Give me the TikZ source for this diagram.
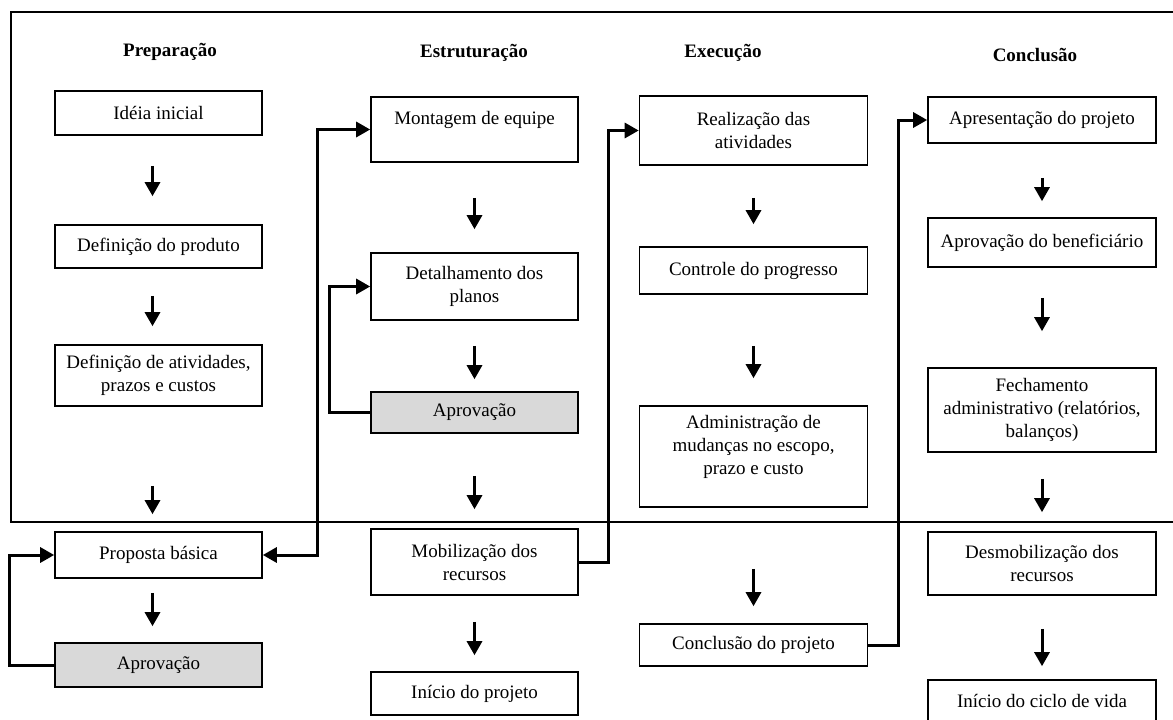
\documentclass[tikz,border=0pt]{standalone}
\usepackage{fontspec}
\setmainfont{Liberation Serif}
\usepackage{xcolor}
\usepackage{tikz}
\usetikzlibrary{positioning, arrows.meta}
\usetikzlibrary{calc}
\definecolor{cinza}{RGB}{217,217,217}
\tikzstyle{etapa} = [rectangle, minimum width=207pt, text centered, align=center, draw=black, line width=1.6pt, inner sep=1pt]
\tikzstyle{etapalarga} = [etapa, minimum width=228pt]
\tikzstyle{aprov} = [etapa, fill=cinza]
\tikzstyle{fase} = [font=\bfseries\fontsize{19}{23}\selectfont]
\tikzstyle{arrow} = [line width=3pt,-{Triangle[width=15pt,length=14pt]}]
\tikzstyle{dupla} = [line width=3pt,{Triangle[width=15pt,length=14pt]}-{Triangle[width=15pt,length=14pt]}]
\tikzstyle{every node}=[font=\fontsize{19}{23}\selectfont]

\begin{document}
\begin{tikzpicture}[x=1pt,y=-1pt]
		\useasboundingbox (0,0) rectangle (1173,720);
		\draw [line width=2pt] (1173,12) -- (11,12) -- (11,522) -- (1173,522);
		\node (f1) [fase] at (170,52) {Preparação};
		\node (f2) [fase] at (474,53) {Estruturação};
		\node (f3) [fase] at (723,53) {Execução};
		\node (f4) [fase] at (1035,55) {Conclusão};
		% preparacao
		\node (p1) [etapa, minimum height=44pt] at (158.5,113) {Idéia inicial};
		\node (p2) [etapa, minimum height=43pt, below of=p1, node distance=133.5pt] {Definição do produto};
		\node (p3) [etapa, minimum height=61pt, below of=p2, node distance=129pt] {Definição de atividades,\\prazos e custos};
		\node (p4) [etapa, minimum height=46pt, below of=p3, node distance=179.5pt] {Proposta básica};
		\node (p5) [aprov, minimum height=44pt, below of=p4, node distance=110pt] {Aprovação};
		% estruturacao
		\node (e1) [etapa, minimum height=65pt] at (474.5,129.5) {Montagem de equipe\\~};
		\node (e2) [etapa, minimum height=67pt, below of=e1, node distance=157pt] {Detalhamento dos\\planos};
		\node (e3) [aprov, minimum height=41pt, below of=e2, node distance=126pt] {Aprovação};
		\node (e4) [etapa, minimum height=66pt, below of=e3, node distance=149.5pt] {Mobilização dos\\recursos};
		\node (e5) [etapa, minimum height=43pt, below of=e4, node distance=131.5pt] {Início do projeto};
		% execucao
		\node (x1) [etapalarga, minimum height=69pt] at (753.5,130.5) {Realização das\\atividades};
		\node (x2) [etapalarga, minimum height=47pt, below of=x1, node distance=140pt] {Controle do progresso};
		\node (x3) [etapalarga, minimum height=101pt, below of=x2, node distance=186pt] {Administração de\\mudanças no escopo,\\prazo e custo\\~};
		\node (x4) [etapalarga, minimum height=42pt, below of=x3, node distance=188.5pt] {Conclusão do projeto};
		% conclusao
		\node (c1) [etapalarga, minimum height=46pt] at (1042,120) {Apresentação do projeto};
		\node (c2) [etapalarga, minimum height=49pt, below of=c1, node distance=122.5pt] {Aprovação do beneficiário};
		\node (c3) [etapalarga, minimum height=84pt, below of=c2, node distance=167.5pt] {Fechamento\\administrativo (relatórios,\\balanços)};
		\node (c4) [etapalarga, minimum height=63pt, below of=c3, node distance=153.5pt] {Desmobilização dos\\recursos};
		\node (c5) [etapalarga, minimum height=42pt, below of=c4, node distance=137.5pt] {Início do ciclo de vida};
		\draw [arrow, shorten <=30pt, shorten >=28pt]([xshift=-6pt]p1.south) -- ([xshift=-6pt]p2.north);
		\draw [arrow, shorten <=27pt, shorten >=18pt]([xshift=-6pt]p2.south) -- ([xshift=-6pt]p3.north);
		\draw [arrow, shorten <=79pt, shorten >=17pt]([xshift=-6pt]p3.south) -- ([xshift=-6pt]p4.north);
		\draw [arrow, shorten <=14pt, shorten >=16pt]([xshift=-6pt]p4.south) -- ([xshift=-6pt]p5.north);
		\draw [arrow, shorten <=35pt, shorten >=23pt](e1) -- (e2);
		\draw [arrow, shorten <=25pt, shorten >=12pt](e2) -- (e3);
		\draw [arrow, shorten <=42pt, shorten >=19pt](e3) -- (e4);
		\draw [arrow, shorten <=26pt, shorten >=16pt](e4) -- (e5);
		\draw [arrow, shorten <=32pt, shorten >=22pt](x1) -- (x2);
		\draw [arrow, shorten <=51pt, shorten >=27pt](x2) -- (x3);
		\draw [arrow, shorten <=61pt, shorten >=17pt](x3) -- (x4);
		\draw [arrow, shorten <=34pt, shorten >=16pt](c1) -- (c2);
		\draw [arrow, shorten <=30pt, shorten >=36pt](c2) -- (c3);
		\draw [arrow, shorten <=26pt, shorten >=19pt](c3) -- (c4);
		\draw [arrow, shorten <=33pt, shorten >=13pt](c4) -- (c5);
		\draw [arrow](p5.west) -- ++(-45,0) |- (p4.west);
		\draw [dupla](p4.east) -- ++(55,0) |- (e1.west);
		\draw [arrow](e3.west) -- ++(-41,0) |- (e2.west);
		\draw [arrow](e4.east) -- ++(30,0) |- (x1.west);
		\draw [arrow](x4.east) -- ++(30,0) |- (c1.west);
	\end{tikzpicture}
\end{document}
